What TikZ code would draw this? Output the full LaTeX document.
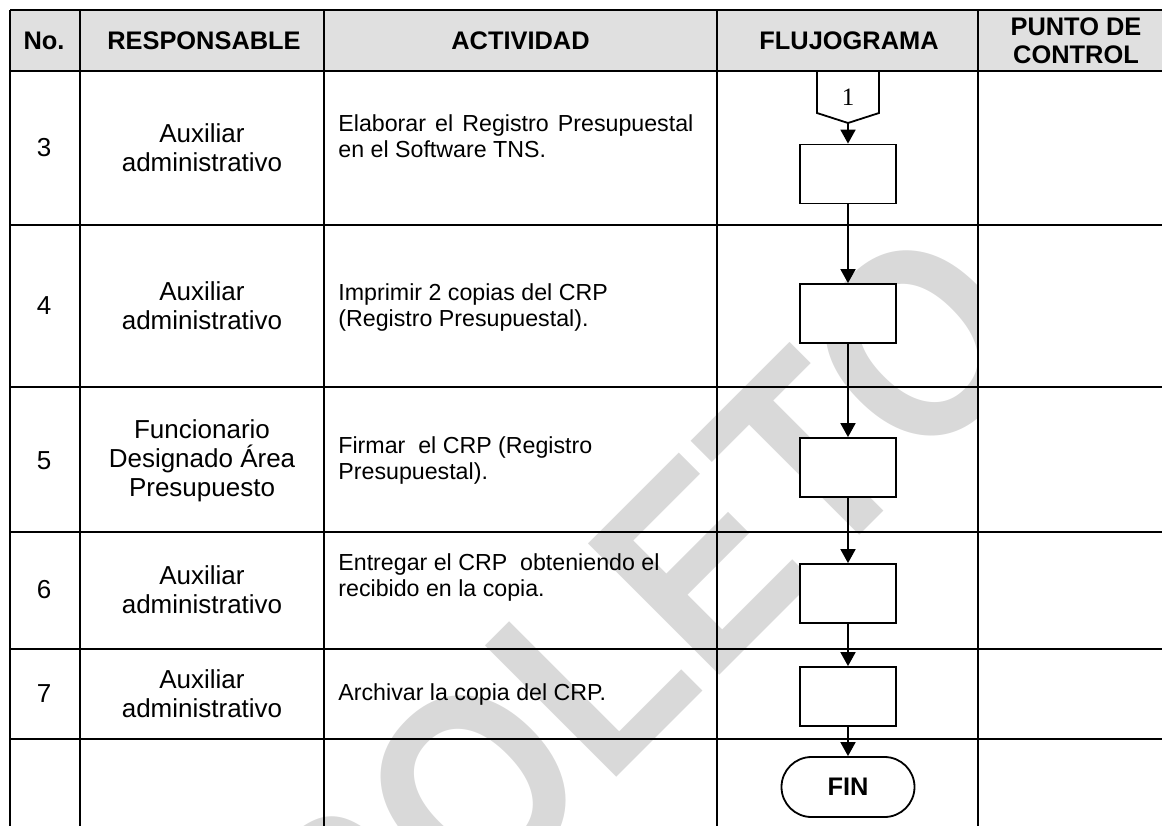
\documentclass[tikz,border=0pt]{standalone}
\usepackage{fontspec}
\setmainfont{Liberation Sans}
\newfontfamily\serifone{Liberation Serif}
\newfontfamily\wmfont[FakeStretch=0.88]{Liberation Sans}
\usepackage{xcolor}
\usepackage{tikz}
\usetikzlibrary{arrows.meta}
\usetikzlibrary{positioning}

\begin{document}
\begin{tikzpicture}[
  x=0.5pt, y=-0.5pt,
  every node/.style={font=\fontsize{11.6}{13}\selectfont, inner sep=0pt},
  head/.style={font=\fontsize{12.7}{14}\selectfont\bfseries, align=center},
  cell/.style={align=center, font=\fontsize{13}{14.5}\selectfont},
  act/.style={anchor=west, align=left},
  proc/.style={draw, fill=white, line width=0.9pt, minimum width=48pt, minimum height=29.5pt},
  term/.style={draw, fill=white, line width=0.9pt, rounded corners=15pt,
    minimum width=66.5pt, minimum height=30pt, font=\fontsize{12.7}{14}\selectfont\bfseries},
  arr/.style={line width=0.9pt, -{Triangle[width=7.5pt,length=7pt]}},
  rule/.style={line width=1.2pt}
]
\useasboundingbox (0,0) rectangle (1162,825);
\clip (0,0) rectangle (1162,825);
\fill[black!12] (10,10) rectangle (1180,71);
\begin{scope}
  \clip (10,71) rectangle (978,840);
  \node[rotate=45, anchor=east, text=black!15, font=\wmfont\bfseries\fontsize{135}{135}\selectfont] (wmark) at (985,278) {OBSOLETO};
\end{scope}

\draw[rule] (10,10) -- (1180,10);
\draw[rule] (10,71) -- (1180,71);
\draw[rule] (10,225) -- (1180,225);
\draw[rule] (10,387) -- (1180,387);
\draw[rule] (10,532) -- (1180,532);
\draw[rule] (10,649) -- (1180,649);
\draw[rule] (10,739) -- (1180,739);
\draw[rule] (10,10) -- (10,840);
\draw[rule] (80,10) -- (80,840);
\draw[rule] (324,10) -- (324,840);
\draw[rule] (717,10) -- (717,840);
\draw[rule] (978,10) -- (978,840);

\node[head] (hno) at (44,40.5) {No.};
\node[head] (hresp) at (204,40.5) {RESPONSABLE};
\node[head] (hact) at (520.5,40.5) {ACTIVIDAD};
\node[head] (hflujo) at (849,40.5) {FLUJOGRAMA};
\node[head] (hpunto) at (1076,40.5) {PUNTO DE\\CONTROL};

\node[cell] (n3) at (44,148) {3};
\node[cell] (n4) at (44,306) {4};
\node[cell] (n5) at (44,461) {5};
\node[cell] (n6) at (44,590) {6};
\node[cell] (n7) at (44,694) {7};

\node[cell] (r3) at (202,148) {Auxiliar\\administrativo};
\node[cell] (r4) at (202,306) {Auxiliar\\administrativo};
\node[cell] (r5) at (202,461) {Funcionario\\Designado Área\\Presupuesto};
\node[cell] (r6) at (202,590) {Auxiliar\\administrativo};
\node[cell] (r7) at (202,694) {Auxiliar\\administrativo};

\node[act] (a3) at (338,136) {\makebox[177.5pt][s]{Elaborar el Registro Presupuestal}\\en el Software TNS.};
\node[act] (a4) at (338,307) {Imprimir 2 copias del CRP\\(Registro Presupuestal).};
\node[act] (a5) at (338,460) {Firmar\ \ el CRP (Registro\\Presupuestal).};
\node[act] (a6) at (338,577) {Entregar el CRP\ \ obteniendo el\\recibido en la copia.};
\node[act] (a7) at (338,694) {Archivar la copia del CRP.};

\draw[line width=0.9pt, fill=white] (817,71) -- (817,113) -- (848,123) -- (879,113) -- (879,71) -- cycle;
\node[font=\serifone\fontsize{12.5}{14}\selectfont] (con1) at (848,97) {1};
\coordinate (con1tip) at (848,123);
\node[proc] (p3) at (848,174) {};
\node[proc] (p4) at (848,313.5) {};
\node[proc] (p5) at (848,467.5) {};
\node[proc] (p6) at (848,593.5) {};
\node[proc] (p7) at (848,696.5) {};
\node[term] (fin) at (848,787) {FIN};

\draw[arr] (con1tip) -- (p3);
\draw[arr] (p3) -- (p4);
\draw[arr] (p4) -- (p5);
\draw[arr] (p5) -- (p6);
\draw[arr] (p6) -- (p7);
\draw[arr] (p7) -- (fin);
\end{tikzpicture}
\end{document}
